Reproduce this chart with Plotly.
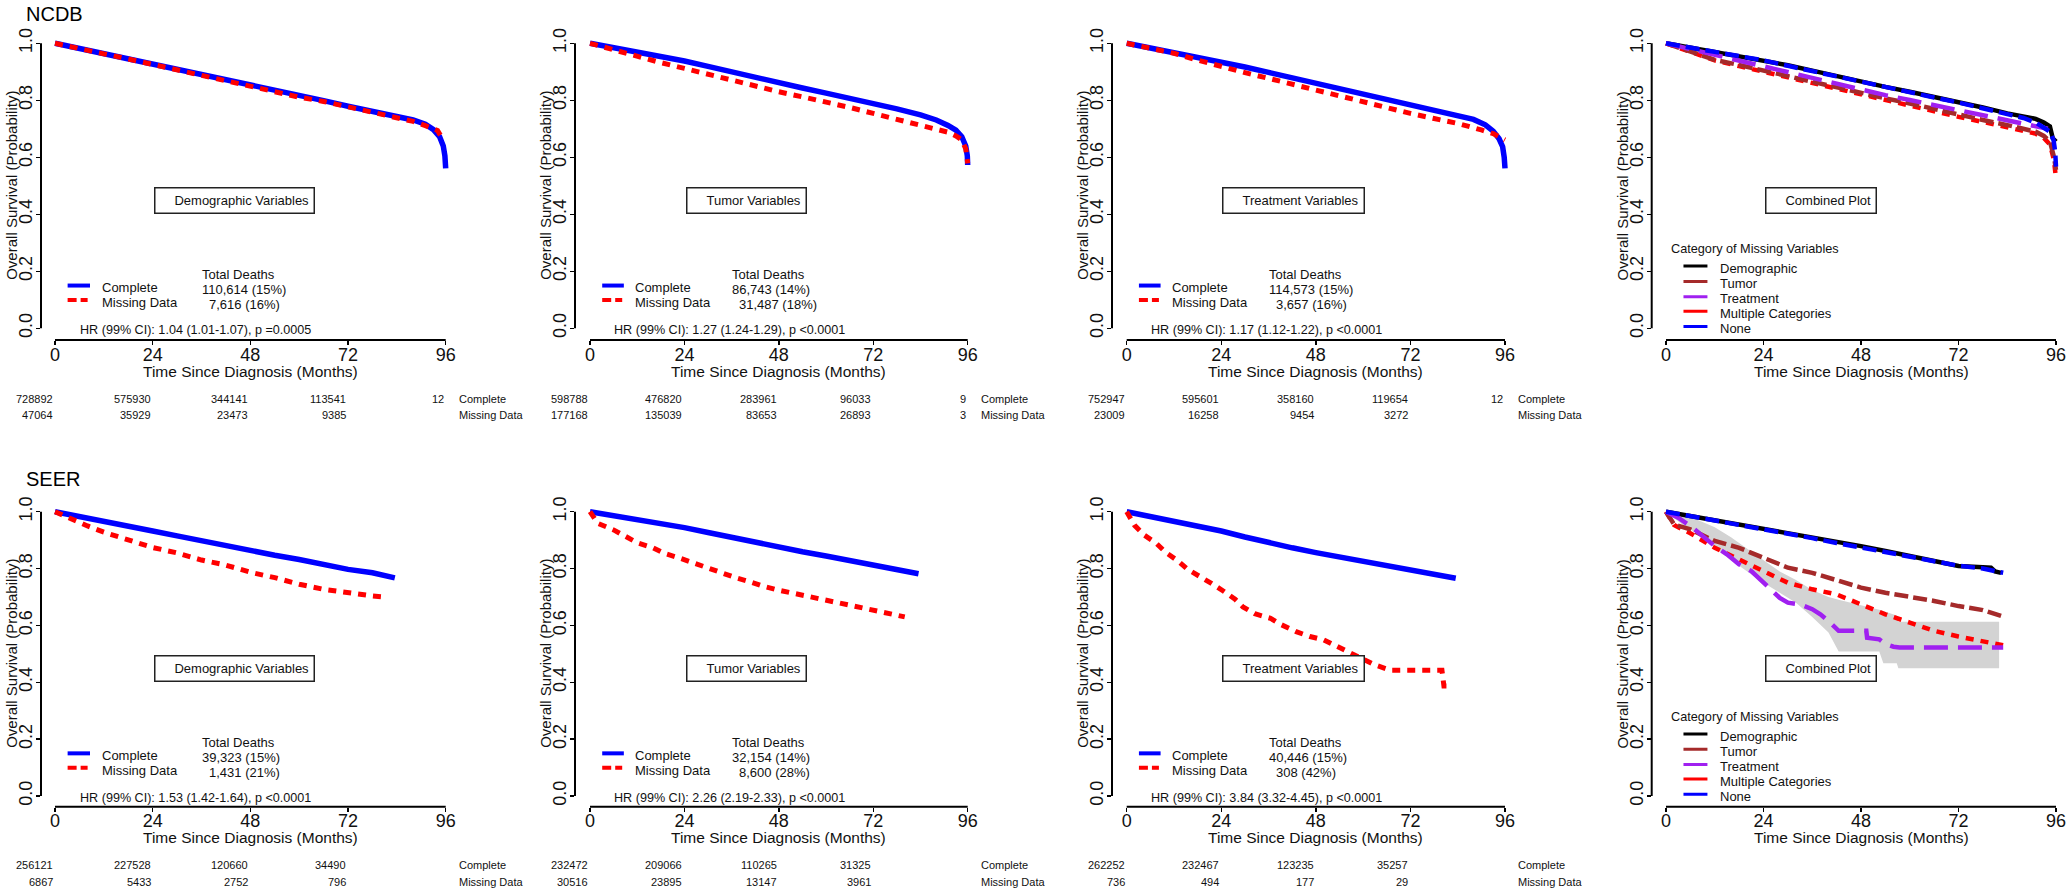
import plotly.graph_objects as go

W, H = 2070, 892
FONT = "Liberation Sans, Arial, sans-serif"
TICKFONT = "Liberation Sans Narrow, Arial Narrow, Liberation Sans, Arial, sans-serif"
TXT = "#111111"

# ------------------------------------------------------------------ data
X_TICKS = [0, 24, 48, 72, 96]
Y_TICKS = [0.0, 0.2, 0.4, 0.6, 0.8, 1.0]
RISK_TIMES = [0, 24, 48, 72, 96]

# NCDB - demographic
t_ncdb_demo_c = [0, 6, 12, 18, 24, 30, 36, 42, 48, 54, 60, 66, 72, 78, 84, 88, 91, 93, 94.5, 95.4, 95.8, 96]
s_ncdb_demo_c = [1.0, 0.982, 0.964, 0.946, 0.929, 0.911, 0.893, 0.874, 0.855, 0.837, 0.818, 0.799, 0.779, 0.762, 0.745, 0.731, 0.716, 0.697, 0.672, 0.640, 0.605, 0.561]
t_ncdb_demo_m = [0, 6, 12, 18, 24, 30, 36, 42, 48, 54, 60, 66, 72, 78, 84, 88, 91, 94, 95.5]
s_ncdb_demo_m = [1.0, 0.980, 0.963, 0.945, 0.926, 0.905, 0.886, 0.866, 0.846, 0.828, 0.811, 0.796, 0.777, 0.759, 0.742, 0.726, 0.711, 0.694, 0.658]
# NCDB - tumor
t_ncdb_tum_c = [0, 6, 12, 18, 24, 30, 36, 42, 48, 54, 60, 66, 72, 78, 84, 88, 91, 93, 94.5, 95.5, 95.9, 96]
s_ncdb_tum_c = [1.0, 0.985, 0.970, 0.954, 0.938, 0.919, 0.899, 0.880, 0.860, 0.843, 0.825, 0.808, 0.790, 0.770, 0.749, 0.731, 0.712, 0.695, 0.672, 0.640, 0.605, 0.573]
t_ncdb_tum_m = [0, 6, 12, 18, 24, 30, 36, 42, 48, 54, 60, 66, 72, 78, 84, 88, 91, 93, 94.5, 95.5, 96]
s_ncdb_tum_m = [1.0, 0.977, 0.953, 0.932, 0.912, 0.891, 0.871, 0.850, 0.830, 0.812, 0.795, 0.775, 0.754, 0.734, 0.713, 0.699, 0.688, 0.675, 0.661, 0.630, 0.579]
# NCDB - treatment
t_ncdb_trt_c = [0, 6, 12, 18, 24, 30, 36, 42, 48, 54, 60, 66, 72, 78, 84, 88, 91, 93, 94.5, 95.4, 95.8, 96]
s_ncdb_trt_c = [1.0, 0.984, 0.968, 0.952, 0.936, 0.917, 0.898, 0.879, 0.860, 0.841, 0.822, 0.803, 0.784, 0.767, 0.749, 0.733, 0.714, 0.692, 0.665, 0.637, 0.600, 0.561]
t_ncdb_trt_m = [0, 6, 12, 18, 24, 30, 36, 42, 48, 54, 60, 66, 72, 78, 84, 90, 93, 96]
s_ncdb_trt_m = [1.0, 0.983, 0.965, 0.941, 0.918, 0.897, 0.877, 0.856, 0.836, 0.815, 0.795, 0.774, 0.754, 0.736, 0.719, 0.696, 0.683, 0.661]
# NCDB - combined
t_ncdb_cmb_demo = [0, 6, 12, 18, 24, 30, 36, 42, 48, 54, 60, 66, 72, 78, 84, 88, 91, 93, 94.5, 95.2, 96]
s_ncdb_cmb_demo = [1.0, 0.985, 0.970, 0.956, 0.942, 0.923, 0.904, 0.884, 0.865, 0.847, 0.830, 0.812, 0.795, 0.775, 0.754, 0.745, 0.735, 0.722, 0.708, 0.667, 0.655]
t_ncdb_cmb_tum = [0, 6, 12, 18, 24, 30, 36, 42, 48, 54, 60, 66, 72, 78, 84, 88, 91, 93, 94.5, 95.5, 96]
s_ncdb_cmb_tum = [1.0, 0.972, 0.942, 0.924, 0.906, 0.885, 0.865, 0.845, 0.825, 0.807, 0.789, 0.769, 0.749, 0.731, 0.713, 0.702, 0.690, 0.675, 0.655, 0.602, 0.556]
t_ncdb_cmb_trt = [0, 6, 12, 18, 24, 30, 36, 42, 48, 54, 60, 66, 72, 78, 84, 88, 92, 94]
s_ncdb_cmb_trt = [1.0, 0.980, 0.959, 0.938, 0.918, 0.897, 0.877, 0.856, 0.836, 0.818, 0.801, 0.783, 0.766, 0.748, 0.731, 0.720, 0.708, 0.700]
t_ncdb_cmb_mult = [0, 6, 12, 18, 24, 30, 36, 42, 48, 54, 60, 66, 72, 78, 84, 88, 91, 93, 94.5, 95.5, 96]
s_ncdb_cmb_mult = [1.0, 0.970, 0.940, 0.920, 0.900, 0.879, 0.858, 0.838, 0.818, 0.799, 0.781, 0.762, 0.742, 0.724, 0.706, 0.695, 0.683, 0.668, 0.645, 0.590, 0.526]
t_ncdb_cmb_none = [0, 6, 12, 18, 24, 30, 36, 42, 48, 54, 60, 66, 72, 78, 84, 88, 91, 93, 94.5, 95.4, 95.8, 96]
s_ncdb_cmb_none = [1.0, 0.985, 0.970, 0.955, 0.940, 0.921, 0.902, 0.883, 0.864, 0.846, 0.828, 0.810, 0.792, 0.773, 0.752, 0.738, 0.722, 0.706, 0.690, 0.660, 0.620, 0.567]

# SEER - demographic
t_seer_demo_c = [0, 6, 12, 18, 24, 30, 36, 42, 48, 54, 60, 66, 72, 78, 83.5]
s_seer_demo_c = [1.0, 0.984, 0.967, 0.950, 0.932, 0.915, 0.897, 0.880, 0.862, 0.847, 0.832, 0.815, 0.797, 0.785, 0.767]
t_seer_demo_m = [0, 4, 8, 12, 18, 24, 30, 36, 42, 48, 54, 60, 66, 72, 78, 81]
s_seer_demo_m = [1.0, 0.974, 0.950, 0.928, 0.903, 0.874, 0.855, 0.830, 0.812, 0.787, 0.768, 0.745, 0.727, 0.714, 0.704, 0.700]
# SEER - tumor
t_seer_tum_c = [0, 6, 12, 18, 24, 30, 36, 42, 48, 54, 60, 66, 72, 78, 83.5]
s_seer_tum_c = [1.0, 0.987, 0.973, 0.959, 0.944, 0.927, 0.909, 0.891, 0.873, 0.859, 0.844, 0.828, 0.812, 0.797, 0.782]
t_seer_tum_m = [0, 2, 6, 9, 12, 16, 19, 23, 26, 30, 33, 37, 41, 44, 48, 52, 56, 60, 64, 68, 72, 76, 80]
s_seer_tum_m = [1.0, 0.959, 0.936, 0.912, 0.891, 0.873, 0.853, 0.836, 0.821, 0.800, 0.785, 0.768, 0.752, 0.738, 0.724, 0.712, 0.698, 0.686, 0.674, 0.662, 0.651, 0.641, 0.630]
# SEER - treatment
t_seer_trt_c = [0, 6, 12, 18, 24, 30, 36, 42, 48, 54, 60, 66, 72, 78, 83.5]
s_seer_trt_c = [1.0, 0.984, 0.967, 0.950, 0.932, 0.911, 0.891, 0.873, 0.856, 0.841, 0.827, 0.811, 0.795, 0.781, 0.766]
t_seer_trt_m = [0, 2, 4.5, 7.5, 10, 13, 15.5, 18.5, 21.5, 24.5, 27.5, 29.5, 32.5, 36.5, 39, 43, 46.5, 50, 53, 56.5, 60, 63, 67, 80, 80.5, 81.5]
s_seer_trt_m = [1.0, 0.952, 0.917, 0.889, 0.856, 0.827, 0.797, 0.774, 0.748, 0.721, 0.692, 0.665, 0.641, 0.625, 0.604, 0.578, 0.561, 0.549, 0.528, 0.508, 0.481, 0.461, 0.442, 0.442, 0.387, 0.387]
# SEER - combined
t_seer_cmb_demo = [0, 6, 12, 18, 24, 30, 36, 42, 48, 54, 60, 66, 72, 78, 80, 81, 82.5]
s_seer_cmb_demo = [1.0, 0.985, 0.971, 0.956, 0.941, 0.925, 0.909, 0.894, 0.879, 0.862, 0.844, 0.827, 0.809, 0.805, 0.803, 0.790, 0.785]
t_seer_cmb_tum = [0, 2, 6, 12, 18, 24, 30, 36, 42, 48, 54, 60, 66, 72, 78, 83]
s_seer_cmb_tum = [1.0, 0.955, 0.938, 0.897, 0.873, 0.838, 0.803, 0.785, 0.760, 0.733, 0.715, 0.701, 0.686, 0.668, 0.654, 0.631]
t_seer_cmb_trt = [0, 3, 6, 9, 12, 15, 18, 21, 24, 26, 28, 30, 33, 36, 38, 40, 42, 42.5, 49.3, 49.5, 52.5, 54, 56, 57.5, 83]
s_seer_cmb_trt = [1.0, 0.979, 0.950, 0.914, 0.879, 0.850, 0.815, 0.791, 0.750, 0.727, 0.697, 0.680, 0.674, 0.657, 0.639, 0.615, 0.590, 0.581, 0.581, 0.557, 0.551, 0.535, 0.525, 0.522, 0.522]
t_seer_cmb_trt_ci = [0, 4, 8, 12, 16, 20, 24, 28, 32, 36, 40, 42.5, 52.5, 53.5, 56.8, 57.2, 82]
s_seer_cmb_trt_hi = [1.0, 0.985, 0.970, 0.945, 0.910, 0.870, 0.830, 0.790, 0.760, 0.725, 0.700, 0.690, 0.655, 0.650, 0.635, 0.613, 0.613]
s_seer_cmb_trt_lo = [1.0, 0.955, 0.920, 0.875, 0.830, 0.790, 0.750, 0.715, 0.680, 0.630, 0.575, 0.508, 0.508, 0.467, 0.467, 0.449, 0.449]
t_seer_cmb_mult = [0, 2, 6, 9, 12, 18, 24, 30, 36, 42, 48, 54, 60, 66, 72, 78, 83]
s_seer_cmb_mult = [1.0, 0.953, 0.924, 0.897, 0.873, 0.832, 0.791, 0.750, 0.727, 0.709, 0.674, 0.639, 0.610, 0.581, 0.561, 0.545, 0.530]
t_seer_cmb_none = [0, 6, 12, 18, 24, 30, 36, 42, 48, 54, 60, 66, 72, 78, 83]
s_seer_cmb_none = [1.0, 0.985, 0.970, 0.955, 0.940, 0.924, 0.907, 0.890, 0.874, 0.858, 0.842, 0.826, 0.810, 0.800, 0.785]

# numbers at risk
risk_ncdb_demo_c = [728892, 575930, 344141, 113541, 12]
risk_ncdb_demo_m = [47064, 35929, 23473, 9385, None]
risk_ncdb_tum_c = [598788, 476820, 283961, 96033, 9]
risk_ncdb_tum_m = [177168, 135039, 83653, 26893, 3]
risk_ncdb_trt_c = [752947, 595601, 358160, 119654, 12]
risk_ncdb_trt_m = [23009, 16258, 9454, 3272, None]
risk_seer_demo_c = [256121, 227528, 120660, 34490, None]
risk_seer_demo_m = [6867, 5433, 2752, 796, None]
risk_seer_tum_c = [232472, 209066, 110265, 31325, None]
risk_seer_tum_m = [30516, 23895, 13147, 3961, None]
risk_seer_trt_c = [262252, 232467, 123235, 35257, None]
risk_seer_trt_m = [736, 494, 177, 29, None]

# total deaths and HR
deaths_labels = ["Complete", "Missing Data"]
deaths_ncdb_demo = ["110,614 (15%)", "7,616 (16%)"]
deaths_ncdb_tum = ["86,743 (14%)", "31,487 (18%)"]
deaths_ncdb_trt = ["114,573 (15%)", "3,657 (16%)"]
deaths_seer_demo = ["39,323 (15%)", "1,431 (21%)"]
deaths_seer_tum = ["32,154 (14%)", "8,600 (28%)"]
deaths_seer_trt = ["40,446 (15%)", "308 (42%)"]
hr_ncdb_demo = "HR (99% CI): 1.04 (1.01-1.07), p =0.0005"
hr_ncdb_tum = "HR (99% CI): 1.27 (1.24-1.29), p <0.0001"
hr_ncdb_trt = "HR (99% CI): 1.17 (1.12-1.22), p <0.0001"
hr_seer_demo = "HR (99% CI): 1.53 (1.42-1.64), p <0.0001"
hr_seer_tum = "HR (99% CI): 2.26 (2.19-2.33), p <0.0001"
hr_seer_trt = "HR (99% CI): 3.84 (3.32-4.45), p <0.0001"

combined_categories = ["Demographic", "Tumor", "Treatment", "Multiple Categories", "None"]
panel_boxes = ["Demographic Variables", "Tumor Variables", "Treatment Variables", "Combined Plot"]
row_titles = ["NCDB", "SEER"]

# ------------------------------------------------------------------ styles
KM_STYLE = {
    "Complete": dict(color="#0000FF", width=5.5, dash="solid"),
    "Missing Data": dict(color="#FF0000", width=5, dash="8px,7px"),
}
KEY_DASH = {"Complete": "solid", "Missing Data": "9px,4px,7px,4px,3px"}
CMB_STYLE = {
    "Demographic": dict(color="#000000", width=4.5, dash="solid"),
    "Tumor": dict(color="#A52A2A", width=4.5, dash="14px,5px"),
    "Treatment": dict(color="#A020F0", width=4.5, dash="24px,10px"),
    "Multiple Categories": dict(color="#FF0000", width=4.5, dash="8px,7px"),
    "None": dict(color="#0000FF", width=4.5, dash="14px,6px"),
}

# geometry (pixels): per column (y-axis line, x=0, x=96); per row (y=1, y=0, x-axis line)
GEOM_X = [(41, 55, 445.7), (575, 590, 967.7), (1112, 1126.7, 1505), (1651.7, 1666, 2056)]
GEOM_Y = [(43.3, 328.3, 340), (511.7, 796, 806.7)]

panels = [
    dict(kind="km", curves=[(t_ncdb_demo_c, s_ncdb_demo_c), (t_ncdb_demo_m, s_ncdb_demo_m)],
         risk=[risk_ncdb_demo_c, risk_ncdb_demo_m], deaths=deaths_ncdb_demo, hr=hr_ncdb_demo),
    dict(kind="km", curves=[(t_ncdb_tum_c, s_ncdb_tum_c), (t_ncdb_tum_m, s_ncdb_tum_m)],
         risk=[risk_ncdb_tum_c, risk_ncdb_tum_m], deaths=deaths_ncdb_tum, hr=hr_ncdb_tum),
    dict(kind="km", curves=[(t_ncdb_trt_c, s_ncdb_trt_c), (t_ncdb_trt_m, s_ncdb_trt_m)],
         risk=[risk_ncdb_trt_c, risk_ncdb_trt_m], deaths=deaths_ncdb_trt, hr=hr_ncdb_trt),
    dict(kind="cmb", ci=None,
         curves={"Demographic": (t_ncdb_cmb_demo, s_ncdb_cmb_demo), "Tumor": (t_ncdb_cmb_tum, s_ncdb_cmb_tum),
                 "Treatment": (t_ncdb_cmb_trt, s_ncdb_cmb_trt), "Multiple Categories": (t_ncdb_cmb_mult, s_ncdb_cmb_mult),
                 "None": (t_ncdb_cmb_none, s_ncdb_cmb_none)}),
    dict(kind="km", curves=[(t_seer_demo_c, s_seer_demo_c), (t_seer_demo_m, s_seer_demo_m)],
         risk=[risk_seer_demo_c, risk_seer_demo_m], deaths=deaths_seer_demo, hr=hr_seer_demo),
    dict(kind="km", curves=[(t_seer_tum_c, s_seer_tum_c), (t_seer_tum_m, s_seer_tum_m)],
         risk=[risk_seer_tum_c, risk_seer_tum_m], deaths=deaths_seer_tum, hr=hr_seer_tum),
    dict(kind="km", curves=[(t_seer_trt_c, s_seer_trt_c), (t_seer_trt_m, s_seer_trt_m)],
         risk=[risk_seer_trt_c, risk_seer_trt_m], deaths=deaths_seer_trt, hr=hr_seer_trt),
    dict(kind="cmb", ci=(t_seer_cmb_trt_ci, s_seer_cmb_trt_hi, s_seer_cmb_trt_lo),
         curves={"Demographic": (t_seer_cmb_demo, s_seer_cmb_demo), "Tumor": (t_seer_cmb_tum, s_seer_cmb_tum),
                 "Treatment": (t_seer_cmb_trt, s_seer_cmb_trt), "Multiple Categories": (t_seer_cmb_mult, s_seer_cmb_mult),
                 "None": (t_seer_cmb_none, s_seer_cmb_none)}),
]


def py2p(py):
    return 1 - py / H


fig = go.Figure()
annotations, shapes, axes = [], [], {}


def txt(**kw):
    base = dict(showarrow=False, font=dict(family=FONT, size=13, color=TXT))
    if "font" in kw:
        base["font"] = {**base["font"], **kw.pop("font")}
    base.update(kw)
    annotations.append(base)


for idx, p in enumerate(panels):
    r, c = divmod(idx, 4)
    n = idx + 1
    sfx = "" if n == 1 else str(n)
    xr_, yr_ = "x" + sfx, "y" + sfx
    ya_px, x0_px, x96_px = GEOM_X[c]
    y1_px, y0_px, xa_px = GEOM_Y[r]
    ppm = (x96_px - x0_px) / 96.0
    ppu = y0_px - y1_px
    right_px = min(x96_px + 12, W - 1)
    axes["xaxis" + sfx] = dict(
        domain=[ya_px / W, right_px / W], range=[(ya_px - x0_px) / ppm, 96 + (right_px - x96_px) / ppm],
        anchor=yr_, tickvals=X_TICKS, ticks="outside", ticklen=4, tickwidth=1.5, tickcolor="#000",
        showgrid=False, zeroline=False, showline=False, ticklabelstandoff=-6, automargin=False,
        tickfont=dict(family=TICKFONT, size=18, color=TXT), fixedrange=True)
    axes["yaxis" + sfx] = dict(
        domain=[py2p(xa_px), py2p(y1_px - 8)], range=[-(xa_px - y0_px) / ppu, 1 + 8 / ppu],
        anchor=xr_, tickvals=Y_TICKS, ticktext=["%.1f" % v for v in Y_TICKS], tickangle=-90,
        ticks="outside", ticklen=4, tickwidth=1.5, tickcolor="#000", automargin=False,
        showgrid=False, zeroline=False, showline=False, ticklabelstandoff=-3,
        tickfont=dict(family=TICKFONT, size=18, color=TXT), fixedrange=True)

    # axis lines (R style, detached)
    shapes.append(dict(type="line", xref=xr_, yref=yr_ + " domain", x0=0, x1=96, y0=0, y1=0,
                       line=dict(color="#000", width=2)))
    shapes.append(dict(type="line", xref=xr_ + " domain", yref=yr_, x0=0, x1=0, y0=0, y1=1,
                       line=dict(color="#000", width=2)))

    # axis titles
    txt(xref="paper", yref="paper", x=(ya_px - 29) / W, y=py2p((y1_px + y0_px) / 2), textangle=-90,
        text="Overall Survival (Probability)", font=dict(size=15), xanchor="center", yanchor="middle")
    txt(xref=xr_, yref="paper", x=48, y=py2p(xa_px + 31), text="Time Since Diagnosis (Months)",
        font=dict(size=15.5), xanchor="center", yanchor="middle")

    # box label
    txt(xref=xr_, yref=yr_, x=24.3, y=0.45, xanchor="left", yanchor="middle",
        text="\u00a0" * 4 + panel_boxes[c], bgcolor="#FFFFFF", bordercolor="#222", borderwidth=1.5, borderpad=4.5)

    if p["kind"] == "km":
        for (t, s), name in zip(p["curves"], deaths_labels):
            st = KM_STYLE[name]
            fig.add_trace(go.Scatter(x=t, y=s, mode="lines", name=name, showlegend=False, hoverinfo="skip",
                                     line=dict(color=st["color"], width=st["width"], dash=st["dash"]),
                                     xaxis=xr_, yaxis=yr_))
        # legend keys & labels
        for name, ky, ty in zip(deaths_labels, [0.150, 0.099], [0.144, 0.090]):
            st = KM_STYLE[name]
            shapes.append(dict(type="line", xref=xr_, yref=yr_, x0=3.1, x1=8.6, y0=ky, y1=ky,
                               line=dict(color=st["color"], width=4, dash=KEY_DASH[name])))
            txt(xref=xr_, yref=yr_, x=11, y=ty, text=name, xanchor="left", yanchor="middle")
        txt(xref=xr_, yref=yr_, x=35.7, y=0.189, text="Total Deaths", xanchor="left", yanchor="middle")
        txt(xref=xr_, yref=yr_, x=35.7, y=0.1345, text=p["deaths"][0], xanchor="left", yanchor="middle")
        txt(xref=xr_, yref=yr_, x=35.7, y=0.082, text=p["deaths"][1], xanchor="left", yanchor="middle", xshift=7)
        txt(xref=xr_, yref=yr_, x=5.7, y=-0.007, text=p["hr"], xanchor="left", yanchor="middle", font=dict(size=12.6))
        # risk table
        for row, (vals, lab) in enumerate(zip(p["risk"], deaths_labels)):
            ypx = xa_px + (58.5 if row == 0 else 75)
            for tt, v in zip(RISK_TIMES, vals):
                if v is not None:
                    txt(xref=xr_, yref="paper", x=tt, y=py2p(ypx), text=str(v), xanchor="right",
                        yanchor="middle", font=dict(size=11))
            txt(xref=xr_, yref="paper", x=96, xshift=11, y=py2p(ypx), text=lab, xanchor="left",
                yanchor="middle", font=dict(size=11))
    else:
        if p["ci"] is not None:
            tci, hi, lo = p["ci"]
            fig.add_trace(go.Scatter(x=tci, y=hi, mode="lines", line=dict(width=0, color="#D3D3D3"),
                                     showlegend=False, hoverinfo="skip", xaxis=xr_, yaxis=yr_))
            fig.add_trace(go.Scatter(x=tci, y=lo, mode="lines", line=dict(width=0, color="#D3D3D3"),
                                     fill="tonexty", fillcolor="#D3D3D3",
                                     showlegend=False, hoverinfo="skip", xaxis=xr_, yaxis=yr_))
        for name in ["Demographic", "Multiple Categories", "Tumor", "Treatment", "None"]:
            t, s = p["curves"][name]
            st = CMB_STYLE[name]
            fig.add_trace(go.Scatter(x=t, y=s, mode="lines", name=name, showlegend=False, hoverinfo="skip",
                                     line=dict(color=st["color"], width=st["width"], dash=st["dash"]),
                                     xaxis=xr_, yaxis=yr_))
        txt(xref=xr_, yref=yr_, x=0.7, y=0.277, text="Category of Missing Variables", xanchor="left",
            yanchor="middle", font=dict(size=12.7))
        for name, ty in zip(combined_categories, [0.2105, 0.156, 0.103, 0.0515, -0.002]):
            shapes.append(dict(type="line", xref=xr_, yref=yr_, x0=4.3, x1=10.2, y0=ty + 0.008, y1=ty + 0.008,
                               line=dict(color=CMB_STYLE[name]["color"], width=3)))
            txt(xref=xr_, yref=yr_, x=12.7, y=ty, text=name, xanchor="left", yanchor="middle")

# row titles
for r, title in enumerate(row_titles):
    txt(xref="paper", yref="paper", x=24 / W, y=py2p(13.5 if r == 0 else 479.3), text=title,
        xanchor="left", yanchor="middle", font=dict(size=20, color="#000"))

fig.update_layout(
    width=W, height=H, margin=dict(l=0, r=0, t=0, b=0, autoexpand=False),
    paper_bgcolor="#FFFFFF", plot_bgcolor="#FFFFFF",
    showlegend=False, annotations=annotations, shapes=shapes,
    font=dict(family=FONT, color=TXT), hovermode=False, **axes)

fig.write_html("out.html", config={"displayModeBar": False, "staticPlot": True},
               post_script="document.body.style.margin='0';document.body.style.overflow='hidden';")
